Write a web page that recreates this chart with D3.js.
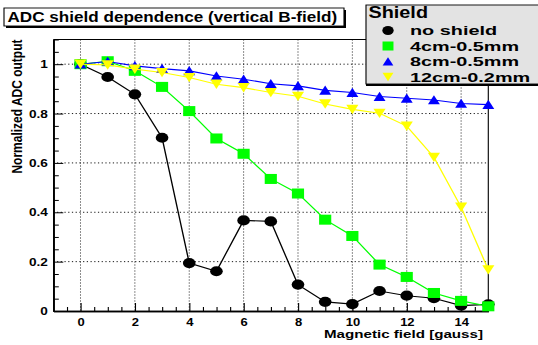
<!DOCTYPE html>
<html>
<head>
<meta charset="utf-8">
<script src="https://cdn.jsdelivr.net/npm/d3@7"></script>
<style>
  html, body { margin: 0; padding: 0; background: #fff; }
  svg { display: block; }
  text { font-family: "Liberation Sans", Arial, Helvetica, sans-serif; font-weight: bold; fill: #000; }
</style>
</head>
<body>
<script>
// Magnetic field values (gauss) at which the ADC output was measured
const fields = [0, 1, 2, 3, 4, 5, 6, 7, 8, 9, 10, 11, 12, 13, 14, 15];

// Normalized ADC output for each shield configuration
const noShield = [1.0, 0.948, 0.878, 0.702, 0.194, 0.161, 0.367, 0.363, 0.107, 0.037, 0.028, 0.081, 0.062, 0.052, 0.022, 0.027];
const cm4_05   = [1.0, 1.012, 0.973, 0.908, 0.810, 0.699, 0.637, 0.535, 0.476, 0.370, 0.304, 0.188, 0.138, 0.073, 0.041, 0.019];
const cm8_05   = [1.0, 1.011, 0.993, 0.982, 0.973, 0.952, 0.939, 0.921, 0.912, 0.894, 0.885, 0.869, 0.862, 0.855, 0.841, 0.836];
const cm12_02  = [1.0, 0.997, 0.980, 0.966, 0.946, 0.919, 0.905, 0.885, 0.870, 0.839, 0.817, 0.801, 0.749, 0.623, 0.421, 0.167];

const seriesNames = ["no shield", "4cm-0.5mm", "8cm-0.5mm", "12cm-0.2mm"];

// Axis tick labels
const xTickLabels = [0, 2, 4, 6, 8, 10, 12, 14];
const yTickLabels = [0, 0.2, 0.4, 0.6, 0.8, 1];

const legendTitle = "Shield";
const chartTitle = "ADC shield dependence (vertical B-field)";
const xTitle = "Magnetic field [gauss]";
const yTitle = "Normalized ADC output";

// ---------------------------------------------------------------------------
// The canvas is drawn in a horizontally compressed space and stretched by SX.
const SX = 1.24;
const nx = px => px / SX;

const svg = d3.select("body").append("svg")
  .attr("width", 538).attr("height", 345);
svg.append("rect").attr("width", 538).attr("height", 345).attr("fill", "#fff");
const root = svg.append("g").attr("transform", `scale(${SX},1)`);

const frame = { left: nx(53.3), right: nx(488.3), top: 39.5, bottom: 311 };

const x = d3.scaleLinear().domain([-1, 15]).range([frame.left, frame.right]);
const y = d3.scaleLinear().domain([0, 1.1]).range([frame.bottom, frame.top]);

// Minor tick positions
const xMinor = d3.range(-2, 31).map(i => i * 0.5).filter(v => v > -1 && v < 15 && !xTickLabels.includes(v));
const yMinor = d3.range(0, 23).map(i => +(i * 0.05).toFixed(2)).filter(v => v <= 1.1 && !yTickLabels.includes(v));

// Dotted grid
const grid = root.append("g").attr("stroke", "#000").attr("stroke-dasharray", "1,2").attr("stroke-width", 0.8);
grid.selectAll("line.gx").data(xTickLabels).join("line")
  .attr("x1", d => x(d)).attr("x2", d => x(d))
  .attr("y1", frame.top).attr("y2", frame.bottom);
grid.selectAll("line.gy").data(yTickLabels.filter(v => v > 0)).join("line")
  .attr("x1", frame.left).attr("x2", frame.right)
  .attr("y1", d => y(d)).attr("y2", d => y(d));

// Frame (top and right)
root.append("line").attr("x1", frame.left).attr("x2", frame.right)
  .attr("y1", frame.top).attr("y2", frame.top).attr("stroke", "#000").attr("stroke-width", 1);
root.append("line").attr("x1", frame.right).attr("x2", frame.right)
  .attr("y1", frame.top).attr("y2", frame.bottom).attr("stroke", "#000").attr("stroke-width", 0.9);

// X axis: minor ticks then major ticks with labels
const xAxisG = root.append("g").attr("transform", `translate(0,${frame.bottom})`);
xAxisG.call(d3.axisBottom(x).tickValues(xMinor).tickSizeInner(-4).tickSizeOuter(0).tickFormat(""));
xAxisG.append("g").call(d3.axisBottom(x).tickValues(xTickLabels).tickSizeInner(-8).tickSizeOuter(0).tickPadding(7.5).tickFormat(d3.format("d")));
xAxisG.selectAll("path.domain").attr("stroke-width", 1.6).attr("stroke", "#000");
xAxisG.selectAll(".tick line").attr("stroke", "#000").attr("stroke-width", 0.9);
xAxisG.selectAll(".tick text").attr("font-size", 10.5).attr("font-family", "Liberation Sans, Arial, sans-serif").attr("font-weight", "bold");

// Y axis
const yAxisG = root.append("g").attr("transform", `translate(${frame.left},0)`);
yAxisG.call(d3.axisLeft(y).tickValues(yMinor).tickSizeInner(-nx(5.5)).tickSizeOuter(0).tickFormat(""));
yAxisG.append("g").call(d3.axisLeft(y).tickValues(yTickLabels).tickSizeInner(-nx(10)).tickSizeOuter(0).tickPadding(nx(5.5)).tickFormat(d3.format("~g")));
yAxisG.selectAll("path.domain").attr("stroke-width", 1.4).attr("stroke", "#000");
yAxisG.selectAll(".tick line").attr("stroke", "#000").attr("stroke-width", 1);
yAxisG.selectAll(".tick text").attr("font-size", 11).attr("font-family", "Liberation Sans, Arial, sans-serif").attr("font-weight", "bold");

// Axis titles
root.append("text").attr("x", nx(483)).attr("y", 338.5).attr("text-anchor", "end")
  .attr("font-size", 11.5).attr("textLength", nx(159)).attr("lengthAdjust", "spacingAndGlyphs").text(xTitle);
root.append("text").attr("transform", `translate(${nx(22)},${frame.top}) rotate(-90)`)
  .attr("text-anchor", "end").attr("font-size", 12).text(yTitle);

// Marker shapes (in the compressed space)
const markers = {
  circle: (g, c) => g.append("circle").attr("r", 5.1).attr("fill", c),
  square: (g, c) => g.append("rect").attr("x", -4.9).attr("y", -5).attr("width", 9.8).attr("height", 10).attr("fill", c),
  triUp: (g, c) => g.append("path").attr("d", "M0,-4.8L4.8,4.4L-4.8,4.4Z").attr("fill", c),
  triDown: (g, c) => g.append("path").attr("d", "M0,4.8L4.9,-4.6L-4.9,-4.6Z").attr("fill", c)
};

const series = [
  { name: seriesNames[0], values: noShield, color: "#000000", marker: "circle" },
  { name: seriesNames[1], values: cm4_05,   color: "#00ff00", marker: "square" },
  { name: seriesNames[2], values: cm8_05,   color: "#0000ff", marker: "triUp" },
  { name: seriesNames[3], values: cm12_02,  color: "#ffff00", marker: "triDown" }
];

const line = d3.line().x(d => x(d[0])).y(d => y(d[1]));

series.forEach(s => {
  const pts = fields.map((f, i) => [f, s.values[i]]);
  const g = root.append("g");
  g.append("path").attr("d", line(pts)).attr("fill", "none")
    .attr("stroke", s.color).attr("stroke-width", 1.1);
  pts.forEach(p => {
    const m = g.append("g").attr("transform", `translate(${x(p[0])},${y(p[1])})`);
    markers[s.marker](m, s.color);
  });
});

// Title box with shadow
root.append("rect").attr("x", nx(6)).attr("y", 10).attr("width", nx(340)).attr("height", 18).attr("fill", "#000");
root.append("rect").attr("x", nx(4)).attr("y", 8).attr("width", nx(340)).attr("height", 18)
  .attr("fill", "#fff").attr("stroke", "#000").attr("stroke-width", 0.9);
root.append("text").attr("x", nx(7.5)).attr("y", 22.5).attr("font-size", 13.8).text(chartTitle);

// Legend box with shadow
const lg = root.append("g");
lg.append("rect").attr("x", nx(366)).attr("y", 7).attr("width", nx(200)).attr("height", 79).attr("fill", "#000");
lg.append("rect").attr("x", nx(366)).attr("y", 5).attr("width", nx(200)).attr("height", 79)
  .attr("fill", "#e3e3e3").attr("stroke", "#000").attr("stroke-width", 0.9);
lg.append("text").attr("x", nx(368.5)).attr("y", 18.5).attr("font-size", 16).text(legendTitle);
const entryY = [30.5, 46, 61.5, 77];
series.forEach((s, i) => {
  const m = lg.append("g").attr("transform", `translate(${nx(388)},${entryY[i]}) scale(0.9)`);
  markers[s.marker](m, s.color);
  // entries keep the 16px text width but use a shorter line height
  const t = lg.append("text").attr("x", nx(410)).attr("y", entryY[i] + 4.8)
    .attr("font-size", 16).text(s.name);
  const w = t.node().getComputedTextLength();
  t.attr("font-size", 13.6).attr("textLength", w).attr("lengthAdjust", "spacingAndGlyphs");
});
</script>
</body>
</html>
